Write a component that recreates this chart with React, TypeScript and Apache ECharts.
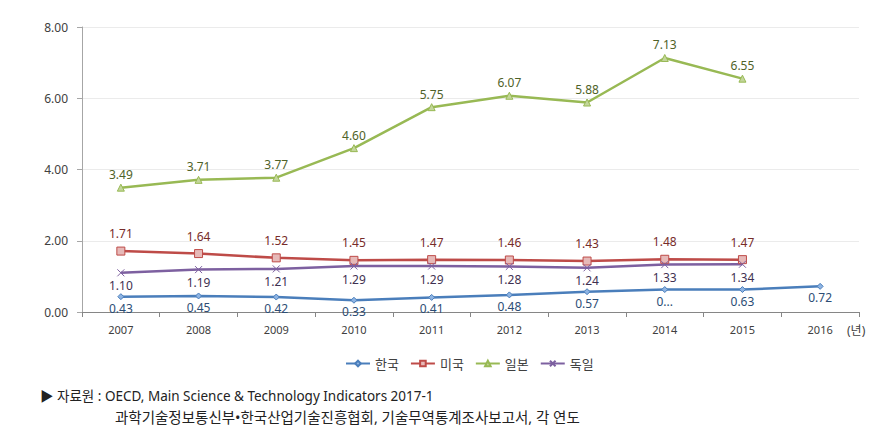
import React, { useEffect, useRef } from "react";
import * as echarts from "echarts";

const years = ["2007", "2008", "2009", "2010", "2011", "2012", "2013", "2014", "2015", "2016"];
const korea = [0.43, 0.45, 0.42, 0.33, 0.41, 0.48, 0.57, 0.63, 0.63, 0.72];
const usa = [1.71, 1.64, 1.52, 1.45, 1.47, 1.46, 1.43, 1.48, 1.47, null];
const japan = [3.49, 3.71, 3.77, 4.6, 5.75, 6.07, 5.88, 7.13, 6.55, null];
const germany = [1.1, 1.19, 1.21, 1.29, 1.29, 1.28, 1.24, 1.33, 1.34, null];
const yTicks = [0, 2, 4, 6, 8];

const FONT = "'Noto Sans', 'Noto Sans CJK KR', sans-serif";

export default function App() {
  const ref = useRef<HTMLDivElement>(null);
  useEffect(() => {
    if (!ref.current) return;
    const chart = echarts.init(ref.current, null, { renderer: "svg" });
    const fmt = (p: any) => (p.value == null ? "" : Number(p.value).toFixed(2));
    const mk = (
      name: string,
      data: any[],
      color: string,
      labelColor: string,
      symbol: string,
      symbolSize: number,
      pos: string,
      dist: number,
      fill: string,
      formatter: any = fmt
    ) => ({
      name,
      type: "line",
      data,
      symbol,
      symbolSize,
      connectNulls: false,
      lineStyle: { color, width: 2.5 },
      itemStyle: { color: fill, borderColor: color, borderWidth: 1 },
      label: {
        show: true,
        position: pos,
        distance: dist,
        color: labelColor,
        fontSize: 12,
        fontFamily: FONT,
        formatter,
      },
      z: 3,
    });
    chart.setOption({
      animation: false,
      textStyle: { fontFamily: FONT },
      grid: { left: 82, right: 19, top: 27, bottom: 123, containLabel: false },
      legend: {
        left: 340,
        top: 352,
        itemWidth: 24,
        itemHeight: 7,
        itemGap: 11,
        textStyle: { fontSize: 13, color: "#404040", fontFamily: FONT },
        data: ["한국", "미국", "일본", "독일"],
      },
      xAxis: {
        type: "category",
        data: years,
        boundaryGap: true,
        axisLine: { lineStyle: { color: "#868686", width: 1 } },
        axisTick: { show: true, length: 5, lineStyle: { color: "#868686" } },
        axisLabel: { color: "#404040", fontSize: 11, margin: 12, fontFamily: FONT },
      },
      yAxis: {
        type: "value",
        min: yTicks[0],
        max: yTicks[yTicks.length - 1],
        interval: 2,
        axisLine: { show: true, lineStyle: { color: "#A6A6A6", width: 1 } },
        axisTick: { show: true, length: 5, lineStyle: { color: "#A6A6A6" } },
        axisLabel: {
          color: "#404040",
          fontSize: 12,
          margin: 14,
          fontFamily: FONT,
          formatter: (v: number) => v.toFixed(2),
        },
        splitLine: { show: true, lineStyle: { color: "#EBEBEB", width: 1 } },
      },
      graphic: [
        {
          type: "text",
          x: 847,
          y: 324,
          style: { text: "(년)", fontSize: 12, fill: "#404040", fontFamily: FONT },
        },
        {
          type: "text",
          x: 40,
          y: 389,
          style: {
            text: "▶ 자료원 : OECD, Main Science & Technology Indicators 2017-1",
            fontSize: 13.5,
            fill: "#222222",
            fontFamily: FONT,
          },
        },
        {
          type: "text",
          x: 115,
          y: 410,
          style: {
            text: "과학기술정보통신부•한국산업기술진흥협회, 기술무역통계조사보고서, 각 연도",
            fontSize: 14.5,
            fill: "#222222",
            fontFamily: FONT,
          },
        },
      ],
      series: [
        mk("한국", korea, "#4A7EBB", "#2C4D75", "diamond", 6, "bottom", 2, "#8EB4E3", (p: any) =>
          p.dataIndex === 7 ? "0..." : Number(p.value).toFixed(2)
        ),
        mk("미국", usa, "#BE4B48", "#772C2A", "rect", 8, "top", 7, "#E6B9B8"),
        mk("일본", japan, "#98B954", "#4F6228", "triangle", 7, "top", 3, "#C3D69B"),
        mk(
          "독일",
          germany,
          "#7D60A0",
          "#3F3151",
          "path://M0,0L10,10M10,0L0,10",
          7,
          "bottom",
          1,
          "none"
        ),
      ],
    });
    return () => chart.dispose();
  }, []);
  return <div ref={ref} style={{ width: 878, height: 435, position: "absolute", left: 0, top: 0 }} />;
}
